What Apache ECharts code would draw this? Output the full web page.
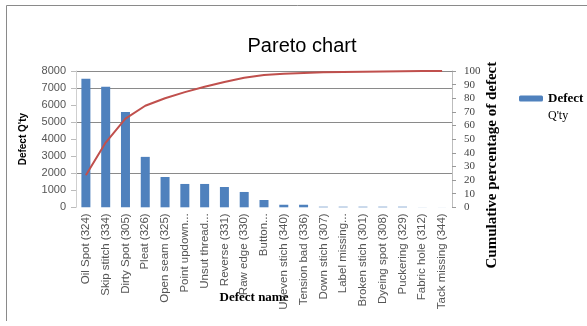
<!DOCTYPE html>
<html>
<head>
<meta charset="utf-8">
<script src="https://cdn.jsdelivr.net/npm/echarts@6/dist/echarts.min.js"></script>
<style>
html,body{margin:0;padding:0;background:#fff;}
#c{width:587px;height:326px;}
</style>
</head>
<body>
<div id="c"></div>
<script>
const categories = ['Oil Spot (324)', 'Skip stitch (334)', 'Dirty Spot (305)', 'Pleat (326)', 'Open seam (325)',
  'Point updown...', 'Unsut thread...', 'Reverse (331)', 'Raw edge (330)', 'Button...',
  'Uneven stich (340)', 'Tension bad (336)', 'Down stich (307)', 'Label missing...', 'Broken stich (301)',
  'Dyeing spot (308)', 'Puckering (329)', 'Fabric hole (312)', 'Tack missing (344)'];
const defectQty = [7550, 7080, 5600, 2960, 1780, 1370, 1370, 1190, 900, 430, 150, 150, 35, 35, 35, 35, 35, 5, 3];
const cumulativePct = [23.5, 47.5, 65, 74.5, 80, 84.5, 88.5, 92, 95, 97, 98, 98.6, 99, 99.3, 99.5, 99.7, 99.85, 99.95, 100];

const chart = echarts.init(document.getElementById('c'), null, {renderer: 'canvas'});
const gridCol = '#8a8a8a';
chart.setOption({
  animation: false,
  backgroundColor: '#fff',
  title: {
    text: 'Pareto chart', left: 297, top: 31, textAlign: 'center',
    textStyle: {fontFamily: 'Liberation Sans', fontSize: 20, fontWeight: 'normal', color: '#000'}
  },
  graphic: [
    {type: 'line', shape: {x1: 6.5, y1: 5.5, x2: 600, y2: 5.5}, style: {stroke: gridCol, lineWidth: 1}},
    {type: 'line', shape: {x1: 6.5, y1: 5.5, x2: 6.5, y2: 321}, style: {stroke: gridCol, lineWidth: 1}}
  ],
  legend: {
    data: ['Defect Q\'ty'], left: 519, top: 92, itemWidth: 24, itemHeight: 6,
    itemGap: 0, padding: 0,
    formatter: function () { return '{a|Defect}\n{b|Q\'ty}'; },
    textStyle: {
      padding: [17, 0, 0, 0],
      rich: {
        a: {fontFamily: 'Liberation Serif', fontSize: 13, fontWeight: 'bold', color: '#000', lineHeight: 17},
        b: {fontFamily: 'Liberation Serif', fontSize: 12, color: '#000', lineHeight: 17}
      }
    }
  },
  grid: {left: 76, right: 135, top: 71, bottom: 118.7, containLabel: false},
  xAxis: {
    type: 'category', data: categories,
    name: 'Defect name', nameLocation: 'middle', nameGap: 84, nameMoveOverlap: false,
    nameTextStyle: {fontFamily: 'Liberation Serif', fontSize: 13, fontWeight: 'bold', color: '#000', padding: [0, 20, 0, 0]},
    axisLine: {show: false}, axisTick: {show: false},
    axisLabel: {interval: 0, rotate: 90, margin: 6, fontFamily: 'Liberation Sans', fontSize: 11.5, color: '#555'}
  },
  yAxis: [
    {
      type: 'value', min: 0, max: 8000, interval: 1000, position: 'left',
      name: 'Defect Q\'ty', nameLocation: 'middle', nameGap: 48, nameMoveOverlap: false,
      nameTextStyle: {fontFamily: 'Liberation Sans', fontSize: 10, fontWeight: 'bold', color: '#000'},
      axisLine: {show: true, lineStyle: {color: '#cfcfcf', width: 1}},
      axisTick: {show: true, length: 5, lineStyle: {color: '#bbb'}},
      axisLabel: {margin: 10, fontFamily: 'Liberation Sans', fontSize: 11, color: '#555',
        formatter: function (v) { return String(v); }},
      splitLine: {show: true, lineStyle: {color: ['transparent', 'transparent', gridCol, 'transparent', 'transparent', gridCol, 'transparent', gridCol, gridCol], width: 1}}
    },
    {
      type: 'value', min: 0, max: 100, interval: 10, position: 'right',
      name: 'Cumulative percentage of defect', nameLocation: 'middle', nameGap: 33, nameMoveOverlap: false,
      nameTextStyle: {fontFamily: 'Liberation Serif', fontSize: 15, fontWeight: 'bold', color: '#000', padding: [0, 52, 0, 0]},
      axisLine: {show: true, lineStyle: {color: '#bdbdbd', width: 1}},
      axisTick: {show: true, length: 4, lineStyle: {color: '#999'}},
      axisLabel: {margin: 12, fontFamily: 'Liberation Serif', fontSize: 11, color: '#444'},
      splitLine: {show: false}
    }
  ],
  series: [
    {
      name: 'Defect Q\'ty', type: 'bar', data: defectQty, yAxisIndex: 0,
      barWidth: 9, itemStyle: {color: '#4F81BD'}
    },
    {
      name: 'Cumulative', type: 'line', data: cumulativePct, yAxisIndex: 1,
      showSymbol: false, symbol: 'none', lineStyle: {color: '#C0504D', width: 2}
    }
  ]
});
</script>
</body>
</html>
